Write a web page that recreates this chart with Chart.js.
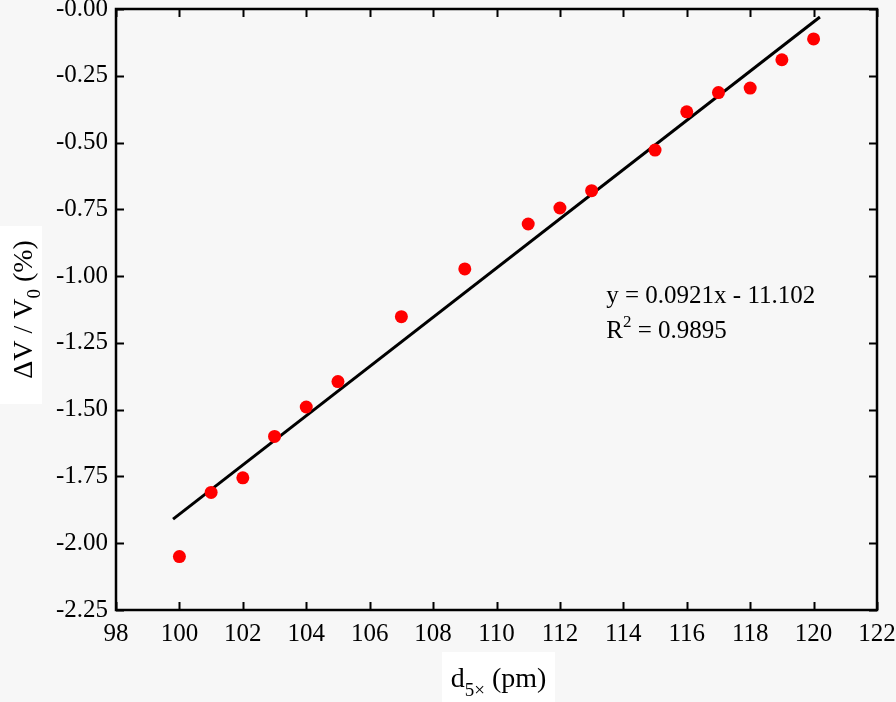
<!DOCTYPE html>
<html>
<head>
<meta charset="utf-8">
<script src="https://cdn.jsdelivr.net/npm/chart.js@4/dist/chart.umd.min.js"></script>
<style>
  html, body { margin:0; padding:0; background:#f7f7f7; }
  #wrap { width:896px; height:702px; position:relative; }
</style>
</head>
<body>
<div id="wrap"><canvas id="chart" width="896" height="702"></canvas></div>
<script>
// data
const xValues = [100, 101, 102, 103, 104, 105, 107, 109, 111, 112, 113, 115, 116, 117, 118, 119, 120];
const yValues = [-2.05, -1.81, -1.755, -1.60, -1.49, -1.395, -1.152, -0.973, -0.805, -0.745, -0.68, -0.528, -0.385, -0.313, -0.296, -0.19, -0.112];
const fitX = [99.8, 120.2];
const fitY = [-1.91, -0.03];
const xTickMin = 98, xTickMax = 122, xTickStep = 2;
const yTickMin = -2.25, yTickMax = 0, yTickStep = 0.25;
const fitLabel = 'y = 0.0921x - 11.102';
const r2Label = ['R', '2', ' = 0.9895'];

const serif = "'Liberation Serif', 'DejaVu Serif', serif";
Chart.defaults.font.family = serif;
Chart.defaults.color = '#000';

const pts = xValues.map((x, i) => ({ x: x, y: yValues[i] }));
const fit = fitX.map((x, i) => ({ x: x, y: fitY[i] }));

// background, frame, inward ticks, titles with subscripts, equation
const decor = {
  id: 'decor',
  beforeDraw(chart) {
    const c = chart.ctx;
    c.save();
    c.fillStyle = '#f7f7f7';
    c.fillRect(0, 0, chart.width, chart.height);
    c.fillStyle = '#ffffff';
    c.fillRect(0, 226, 42, 178);
    c.fillRect(442, 652, 113, 50);
    c.restore();
  },
  afterDatasetsDraw(chart) {
    const c = chart.ctx;
    const a = chart.chartArea;
    const xs = chart.scales.x, ys = chart.scales.y;
    c.save();
    c.strokeStyle = '#000';
    c.lineWidth = 2;
    xs.ticks.forEach(t => {
      const px = Math.round(xs.getPixelForValue(t.value)) + 0.5;
      c.beginPath();
      c.moveTo(px, a.bottom); c.lineTo(px, a.bottom - 8);
      c.moveTo(px, a.top); c.lineTo(px, a.top + 8);
      c.stroke();
    });
    ys.ticks.forEach(t => {
      const py = Math.round(ys.getPixelForValue(t.value)) + 0.5;
      c.beginPath();
      c.moveTo(a.left, py); c.lineTo(a.left + 8, py);
      c.moveTo(a.right, py); c.lineTo(a.right - 8, py);
      c.stroke();
    });
    c.lineWidth = 2.5;
    c.strokeRect(a.left, a.top, a.right - a.left, a.bottom - a.top);

    // equation text
    c.fillStyle = '#000';
    c.font = '25px ' + serif;
    c.textBaseline = 'alphabetic';
    c.textAlign = 'left';
    const ex = xs.getPixelForValue(113.46);
    const ey = ys.getPixelForValue(-1.10);
    c.fillText(fitLabel, ex, ey);
    let rx = ex;
    const ry = ey + 35;
    c.fillText(r2Label[0], rx, ry); rx += c.measureText(r2Label[0]).width;
    c.font = '17px ' + serif;
    c.fillText(r2Label[1], rx, ry - 11); rx += c.measureText(r2Label[1]).width;
    c.font = '25px ' + serif;
    c.fillText(r2Label[2], rx, ry);

    // x title: d_5x (pm)
    const big = '28px ' + serif, small = '19px ' + serif;
    const xParts = [['d', big, 0], ['5\u00d7', small, 9], [' (pm)', big, 0]];
    drawParts(c, xParts, (a.left + a.right) / 2 + 2, 687);

    // y title: ΔV / V_0 (%)
    c.save();
    c.translate(32, (a.top + a.bottom) / 2);
    c.rotate(-Math.PI / 2);
    const yParts = [['\u0394V / V', big, 0], ['0', small, 8], [' (%)', big, 0]];
    drawParts(c, yParts, 0, 0);
    c.restore();
    c.restore();
  }
};

function drawParts(c, parts, cx, baseY) {
  let w = 0;
  parts.forEach(p => { c.font = p[1]; w += c.measureText(p[0]).width; });
  let x = cx - w / 2;
  c.textAlign = 'left';
  c.textBaseline = 'alphabetic';
  parts.forEach(p => {
    c.font = p[1];
    c.fillText(p[0], x, baseY + p[2]);
    x += c.measureText(p[0]).width;
  });
}

new Chart(document.getElementById('chart').getContext('2d'), {
  type: 'scatter',
  data: {
    datasets: [
      { label: 'fit', data: fit, showLine: true, borderColor: '#000', borderWidth: 3,
        pointRadius: 0, fill: false, order: 2 },
      { label: 'data', data: pts, backgroundColor: '#ff0000', borderColor: '#ff0000',
        pointRadius: 6.5, pointHoverRadius: 6.5, borderWidth: 0, order: 1 }
    ]
  },
  options: {
    responsive: false,
    animation: false,
    events: [],
    layout: { padding: { top: 9, right: 19, left: 0, bottom: 0 } },
    plugins: { legend: { display: false }, tooltip: { enabled: false } },
    scales: {
      x: {
        type: 'linear', min: xTickMin, max: xTickMax,
        grid: { display: false, drawTicks: false },
        border: { display: false },
        ticks: { stepSize: xTickStep, padding: 9, color: '#000', font: { family: serif, size: 25 },
                 maxRotation: 0, autoSkip: false },
        afterFit(s) { s.height = 92; s.paddingLeft = 0; s.paddingRight = 0; }
      },
      y: {
        type: 'linear', min: yTickMin, max: yTickMax,
        grid: { display: false, drawTicks: false },
        border: { display: false },
        ticks: { stepSize: yTickStep, padding: 8, color: '#000', font: { family: serif, size: 25 },
                 autoSkip: false,
                 callback: v => (v === 0 ? '-0.00' : v.toFixed(2)) },
        afterFit(s) { s.width = 116; s.paddingTop = 0; s.paddingBottom = 0; }
      }
    }
  },
  plugins: [decor]
});
</script>
</body>
</html>
